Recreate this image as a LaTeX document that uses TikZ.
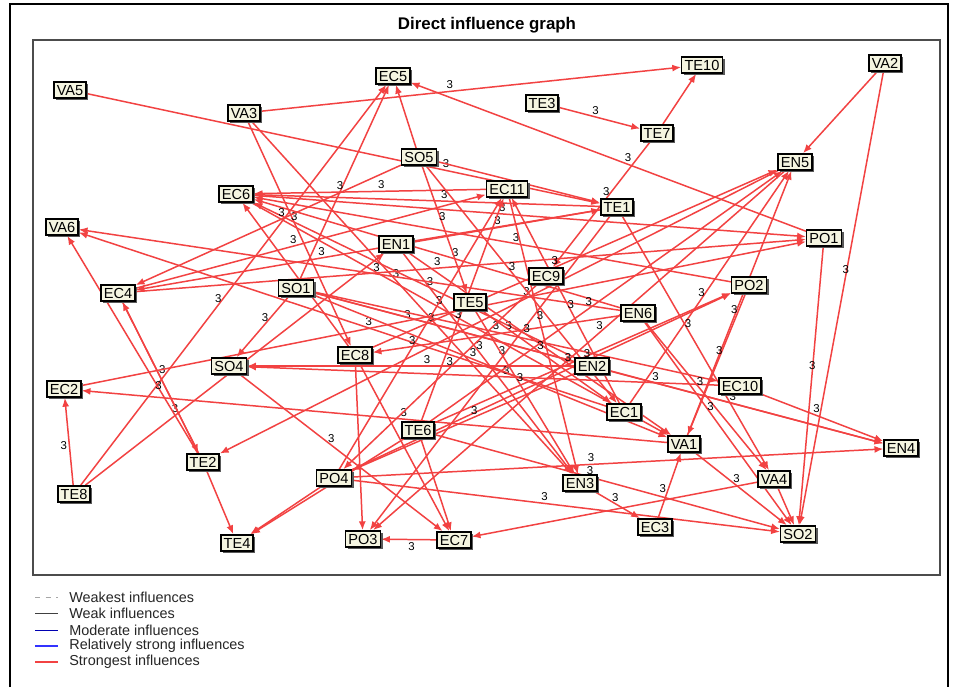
\documentclass[tikz,border=0pt]{standalone}
\usepackage{fontspec}
\setmainfont{Liberation Sans}
\usetikzlibrary{arrows.meta,shadows}

\definecolor{inflred}{RGB}{242,66,66}
\definecolor{boxfill}{RGB}{245,245,225}

\pgfdeclarelayer{paper}
\pgfdeclarelayer{links}
\pgfsetlayers{paper,links,main}

\tikzset{
  factor/.style={draw, line width=0.8pt, fill=boxfill, inner xsep=1.6pt, inner ysep=1.3pt,
    font=\fontsize{8.3}{9}\selectfont, text height=6.2pt, text depth=0.5pt,
    drop shadow={shadow xshift=1.3pt, shadow yshift=-1.3pt, fill=black!65, opacity=1}},
  infl/.style={draw=inflred, line width=0.85pt, -{Latex[length=5pt,width=4pt]}},
  wt/.style={font=\fontsize{6.5}{7}\selectfont, inner sep=1pt, pos=0.45, above},
  legtxt/.style={font=\fontsize{8.2}{9}\selectfont, anchor=west, inner sep=0pt, text=black!85}
}

\begin{document}
\begin{tikzpicture}[x=0.02cm, y=-0.02cm]
    \useasboundingbox (0,0) rectangle (956,687);
    \begin{pgfonlayer}{paper}
      \fill[white] (0,0) rectangle (956,687);
      \draw[line width=1.6pt] (10,687) -- (10,4) -- (948,4) -- (948,687);
      \draw[black!70, line width=0.6pt] (33,40) rectangle (940,575);
    \end{pgfonlayer}
    \node[font=\fontsize{9.6}{11}\selectfont\bfseries] (title) at (487,25) {Direct influence graph};

    % factors
    \node[factor] (VA5) at (70,90) {VA5};
    \node[factor] (VA3) at (244,113) {VA3};
    \node[factor] (EC5) at (393,76) {EC5};
    \node[factor] (TE10) at (702,65) {TE10};
    \node[factor] (VA2) at (885,63) {VA2};
    \node[factor] (TE3) at (542,103) {TE3};
    \node[factor] (TE7) at (657,133) {TE7};
    \node[factor] (SO5) at (419,157) {SO5};
    \node[factor] (EN5) at (795,162) {EN5};
    \node[factor] (EC6) at (236,194) {EC6};
    \node[factor] (EC11) at (507,189) {EC11};
    \node[factor] (TE1) at (617,207) {TE1};
    \node[factor] (VA6) at (62,227) {VA6};
    \node[factor] (EN1) at (396,244) {EN1};
    \node[factor] (PO1) at (824,238) {PO1};
    \node[factor] (EC9) at (546,276) {EC9};
    \node[factor] (EC4) at (118,293) {EC4};
    \node[factor] (SO1) at (296,288) {SO1};
    \node[factor] (PO2) at (749,285) {PO2};
    \node[factor] (TE5) at (470,302) {TE5};
    \node[factor] (EN6) at (638,313) {EN6};
    \node[factor] (EC8) at (355,355) {EC8};
    \node[factor] (SO4) at (229,366) {SO4};
    \node[factor] (EN2) at (592,366) {EN2};
    \node[factor] (EC10) at (740,386) {EC10};
    \node[factor] (EC2) at (64,389) {EC2};
    \node[factor] (EC1) at (624,412) {EC1};
    \node[factor] (TE6) at (418,430) {TE6};
    \node[factor] (VA1) at (684,444) {VA1};
    \node[factor] (EN4) at (901,448) {EN4};
    \node[factor] (TE2) at (203,462) {TE2};
    \node[factor] (VA4) at (774,479) {VA4};
    \node[factor] (EN3) at (580,483) {EN3};
    \node[factor] (PO4) at (334,478) {PO4};
    \node[factor] (TE8) at (74,494) {TE8};
    \node[factor] (EC3) at (655,527) {EC3};
    \node[factor] (SO2) at (798,534) {SO2};
    \node[factor] (TE4) at (237,543) {TE4};
    \node[factor] (PO3) at (363,539) {PO3};
    \node[factor] (EC7) at (454,540) {EC7};

    % influences
    \begin{pgfonlayer}{links}
    \draw[infl] (VA5) -- node[wt, pos=0.7] {3} (TE1);
    \draw[infl] (VA3) -- node[wt] {3} (TE10);
    \draw[infl] (VA3) -- node[wt] {3} (EC8);
    \draw[infl] (VA3) -- node[wt] {3} (EN3);
    \draw[infl] (PO1) -- node[wt] {3} (EC5);
    \draw[infl] (TE3) -- node[wt] {3} (TE7);
    \draw[infl] (TE7) -- (TE10);
    \draw[infl] (TE7) -- node[wt] {3} (EC9);
    \draw[infl] (VA2) -- (EN5);
    \draw[infl] (VA2) -- node[wt] {3} (SO2);
    \draw[infl] (PO1) -- node[wt] {3} (SO2);
    \draw[infl] (SO5) -- (EC5);
    \draw[infl] (SO1) -- node[wt] {3} (EC5);
    \draw[infl] (TE8) -- node[wt] {3} (EC5);
    \draw[infl] (TE8) -- node[wt, left] {3} (EC2);
    \draw[infl] (TE8) -- node[wt, pos=0.3] {3} (EN1);
    \draw[infl] (TE2) -- (VA6);
    \draw[infl] (TE2) -- node[wt, left] {3} (EC4);
    \draw[infl] (EC4) -- node[wt, right] {3} (TE2);
    \draw[infl] (TE2) -- (TE4);
    \draw[infl] (PO4) -- (TE4);
    \draw[infl] (TE6) -- (TE4);
    \draw[infl] (EC7) -- node[wt, below] {3} (PO3);
    \draw[infl] (VA4) -- (EC7);
    \draw[infl] (SO4) -- node[wt] {3} (EC7);
    \draw[infl] (TE6) -- (EC7);
    \draw[infl] (EC8) -- (EC7);
    \draw[infl] (EN5) -- node[wt] {3} (PO3);
    \draw[infl] (TE1) -- node[wt] {3} (PO3);
    \draw[infl] (EC8) -- (PO3);
    \draw[infl] (EC11) -- node[wt] {3} (EC6);
    \draw[infl] (TE1) -- node[wt] {3} (EC6);
    \draw[infl] (PO2) -- node[wt] {3} (EC6);
    \draw[infl] (EN6) -- node[wt] {3} (EC6);
    \draw[infl] (EN2) -- node[wt] {3} (EC6);
    \draw[infl] (EC8) -- (EC6);
    \draw[infl] (SO5) -- (TE1);
    \draw[infl] (EN1) -- node[wt] {3} (TE1);
    \draw[infl] (SO5) -- node[wt] {3} (EC4);
    \draw[infl] (TE1) -- node[wt, pos=0.6] {3} (EC4);
    \draw[infl] (EC4) -- node[wt] {3} (EC11);
    \draw[infl] (EN6) -- node[wt] {3} (VA6);
    \draw[infl] (EC1) -- node[wt] {3} (VA6);
    \draw[infl] (EC2) -- node[wt] {3} (PO1);
    \draw[infl] (EC6) -- node[wt] {3} (PO1);
    \draw[infl] (EC4) -- node[wt] {3} (PO1);
    \draw[infl] (VA1) -- node[wt] {3} (EC2);
    \draw[infl] (EN2) -- node[wt] {3} (SO4);
    \draw[infl] (EC10) -- node[wt] {3} (SO4);
    \draw[infl] (SO1) -- node[wt] {3} (SO4);
    \draw[infl] (SO1) -- node[wt] {3} (EN2);
    \draw[infl] (SO1) -- node[wt] {3} (EC10);
    \draw[infl] (SO1) -- node[wt] {3} (VA1);
    \draw[infl] (SO1) -- node[wt, pos=0.6] {3} (EN4);
    \draw[infl] (EN6) -- node[wt] {3} (EC8);
    \draw[infl] (EC1) -- node[wt] {3} (EN5);
    \draw[infl] (VA1) -- node[wt] {3} (EN5);
    \draw[infl] (EC8) -- node[wt] {3} (EN5);
    \draw[infl] (TE6) -- node[wt] {3} (EN5);
    \draw[infl] (EN5) -- node[wt] {3} (TE2);
    \draw[infl] (PO4) -- node[wt] {3} (EN4);
    \draw[infl] (PO4) -- node[wt] {3} (SO2);
    \draw[infl] (TE6) -- node[wt] {3} (SO2);
    \draw[infl] (EC11) -- node[wt] {3} (EN3);
    \draw[infl] (EN1) -- node[wt] {3} (EN3);
    \draw[infl] (TE5) -- node[wt] {3} (EN3);
    \draw[infl] (EN3) -- node[wt] {3} (EC3);
    \draw[infl] (EC3) -- node[wt, left] {3} (VA1);
    \draw[infl] (VA1) -- node[wt] {3} (SO2);
    \draw[infl] (VA4) -- (SO2);
    \draw[infl] (TE1) -- node[wt] {3} (VA4);
    \draw[infl] (EN6) -- node[wt] {3} (VA4);
    \draw[infl] (EN6) -- node[wt] {3} (SO2);
    \draw[infl] (EC10) -- node[wt] {3} (EN4);
    \draw[infl] (EN2) -- node[wt] {3} (EN4);
    \draw[infl] (EN1) -- node[wt] {3} (VA1);
    \draw[infl] (EC6) -- node[wt] {3} (VA1);
    \draw[infl] (PO2) -- node[wt] {3} (VA1);
    \draw[infl] (TE6) -- node[wt] {3} (EC11);
    \draw[infl] (PO4) -- node[wt] {3} (EC11);
    \draw[infl] (EC1) -- node[wt] {3} (EC11);
    \draw[infl] (SO5) -- node[wt] {3} (TE5);
    \draw[infl] (SO5) -- node[wt] {3} (EC1);
    \draw[infl] (TE5) -- node[wt] {3} (EC1);
    \draw[infl] (TE6) -- node[wt] {3} (PO2);
    \draw[infl] (PO4) -- node[wt, pos=0.62] {3} (PO2);
    \draw[infl] (EC9) -- node[wt] {3} (PO4);
    \draw[infl] (EN2) -- node[wt] {3} (PO4);
    \end{pgfonlayer}

    % legend
    \draw[black!35, dashed, line width=0.4pt] (35,597) -- (58,597);
    \node[legtxt] (lg1) at (69,597) {Weakest influences};
    \draw[black!75, line width=0.5pt] (35,613) -- (58,613);
    \node[legtxt] (lg2) at (69,613) {Weak influences};
    \draw[blue!70!black, line width=0.5pt] (35,630) -- (58,630);
    \node[legtxt] (lg3) at (69,630) {Moderate influences};
    \draw[blue!80, line width=1.1pt] (35,646) -- (58,646);
    \node[legtxt] (lg4) at (69,646) {Relatively strong influences};
    \draw[inflred, line width=1.1pt] (35,662) -- (58,662);
    \node[legtxt] (lg5) at (69,662) {Strongest influences};
\end{tikzpicture}
\end{document}
